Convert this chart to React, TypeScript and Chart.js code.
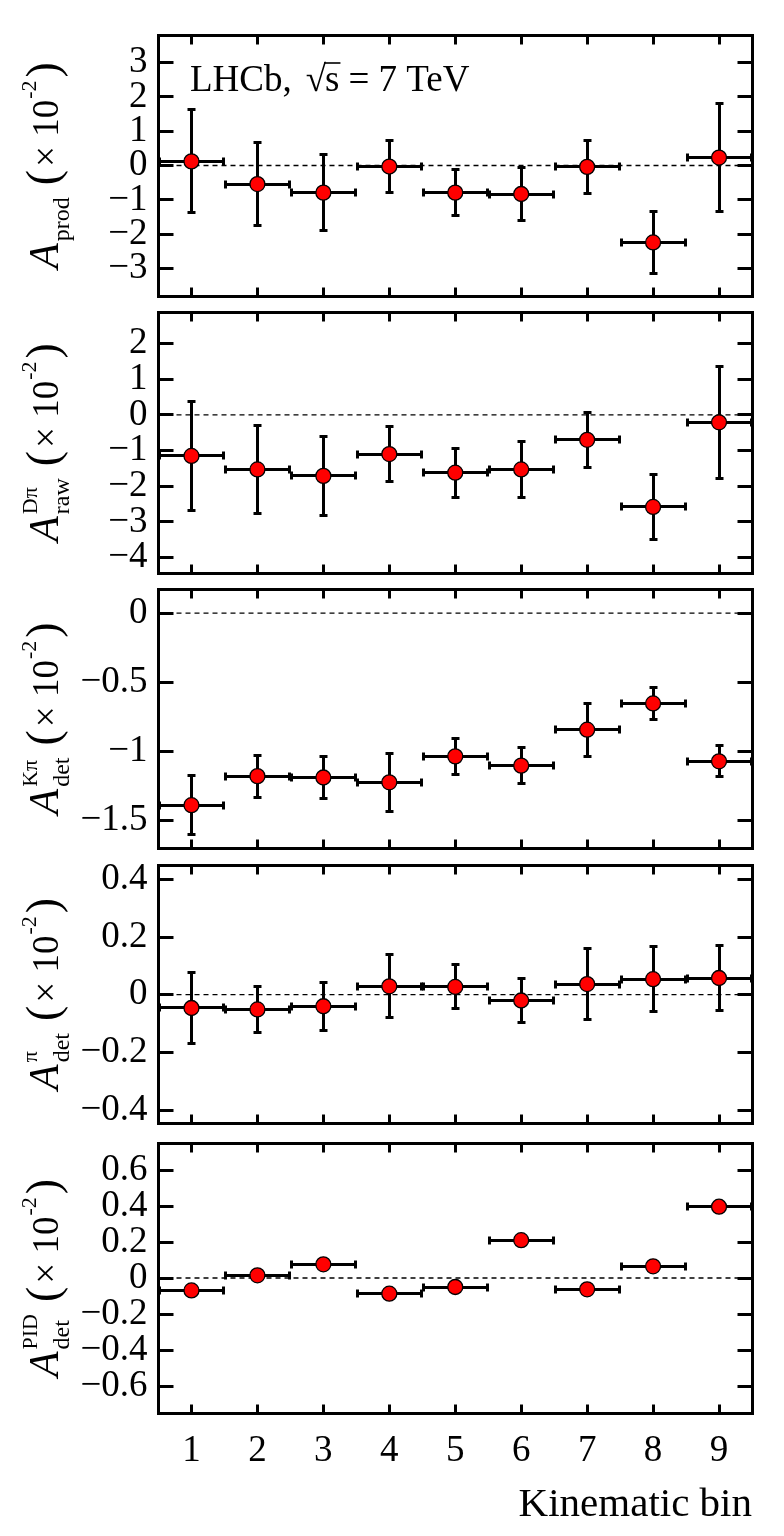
import React, { useEffect, useRef } from 'react';
import { Chart, registerables } from 'chart.js';

Chart.register(...registerables);

const FONT = "'Liberation Serif', 'Times New Roman', serif";

// ---------------- data ----------------
const bins = [1, 2, 3, 4, 5, 6, 7, 8, 9];
const binHalfWidth = 0.5;

const aProd = [0.12, -0.54, -0.79, -0.03, -0.79, -0.83, -0.04, -2.24, 0.23];
const aProdErr = [1.53, 1.25, 1.14, 0.79, 0.70, 0.80, 0.80, 0.92, 1.59];

const aRawDpi = [-1.15, -1.53, -1.71, -1.10, -1.62, -1.53, -0.70, -2.58, -0.21];
const aRawDpiErr = [1.55, 1.27, 1.13, 0.79, 0.71, 0.81, 0.79, 0.93, 1.60];

const aDetKpi = [-1.39, -1.18, -1.19, -1.225, -1.037, -1.104, -0.844, -0.654, -1.073];
const aDetKpiErr = [0.22, 0.16, 0.16, 0.215, 0.135, 0.135, 0.2, 0.12, 0.12];

const aDetPi = [-0.046, -0.051, -0.04, 0.029, 0.027, -0.02, 0.037, 0.054, 0.058];
const aDetPiErr = [0.128, 0.084, 0.087, 0.113, 0.08, 0.081, 0.128, 0.116, 0.117];

const aDetPid = [-0.069, 0.015, 0.076, -0.087, -0.05, 0.21, -0.063, 0.065, 0.396];

const prodTicks = [-3, -2, -1, 0, 1, 2, 3];
const rawTicks = [-4, -3, -2, -1, 0, 1, 2];
const kpiTicks = [-1.5, -1, -0.5, 0];
const piTicks = [-0.4, -0.2, 0, 0.2, 0.4];
const pidTicks = [-0.6, -0.4, -0.2, 0, 0.2, 0.4, 0.6];

const titleSub = ['prod', 'raw', 'det', 'det', 'det'];
const titleSup = ['', 'Dπ', 'Kπ', 'π', 'PID'];
const xTitle = 'Kinematic bin';
const lhcbLabel = ['LHCb,', 's', '= 7 TeV'];

// ---------------- panels ----------------
type Panel = {
  values: number[];
  errors: number[] | null;
  yMin: number;
  yMax: number;
  yTicks: number[];
  sub: string;
  sup: string;
};

const panels: Panel[] = [
  { values: aProd, errors: aProdErr, yMin: -3.8, yMax: 3.8, yTicks: prodTicks, sub: titleSub[0], sup: titleSup[0] },
  { values: aRawDpi, errors: aRawDpiErr, yMin: -4.43, yMax: 2.88, yTicks: rawTicks, sub: titleSub[1], sup: titleSup[1] },
  { values: aDetKpi, errors: aDetKpiErr, yMin: -1.7, yMax: 0.174, yTicks: kpiTicks, sub: titleSub[2], sup: titleSup[2] },
  { values: aDetPi, errors: aDetPiErr, yMin: -0.445, yMax: 0.45, yTicks: piTicks, sub: titleSub[3], sup: titleSup[3] },
  { values: aDetPid, errors: null, yMin: -0.75, yMax: 0.75, yTicks: pidTicks, sub: titleSub[4], sup: titleSup[4] },
];

// layout (pixels)
const FRAME_LEFT = 158.5;
const FRAME_RIGHT = 752;
const PAGE_W = 784;
const PAGE_H = 1536;
const MARGIN = 40;
const frames = [
  { top: 35, bottom: 296 },
  { top: 312, bottom: 573 },
  { top: 589, bottom: 848 },
  { top: 865, bottom: 1123 },
  { top: 1143, bottom: 1413 },
];
const layout = frames.map((f, i) => {
  const last = i === frames.length - 1;
  const bottomH = last ? PAGE_H - f.bottom : MARGIN;
  return { canvasTop: f.top - MARGIN, height: f.bottom - f.top + MARGIN + bottomH, bottomH, last };
});

const fmtTick = (v: number) => String(Math.round(v * 1000) / 1000).replace('-', '\u2212');
const snap = (v: number) => Math.round(v - 0.5) + 0.5;

function line(ctx: CanvasRenderingContext2D, x1: number, y1: number, x2: number, y2: number) {
  ctx.beginPath();
  ctx.moveTo(x1, y1);
  ctx.lineTo(x2, y2);
  ctx.stroke();
}

function drawYTitle(ctx: CanvasRenderingContext2D, p: Panel, cy: number) {
  const baseX = 58;
  ctx.save();
  ctx.fillStyle = '#000';
  ctx.textAlign = 'left';
  ctx.textBaseline = 'alphabetic';
  const fA = `italic 42px ${FONT}`;
  const fSub = `24px ${FONT}`;
  const fSup = `22px ${FONT}`;
  const fParen = `46px ${FONT}`;
  const fMain = `37px ${FONT}`;
  ctx.font = fA;
  const wA = ctx.measureText('A').width;
  ctx.font = fSub;
  const wSub = ctx.measureText(p.sub).width;
  ctx.font = fSup;
  const wSup = p.sup ? ctx.measureText(p.sup).width : 0;
  const wExp = ctx.measureText('-2').width;
  ctx.font = fParen;
  const wParen = ctx.measureText('(').width;
  ctx.font = fMain;
  const wTimes = ctx.measureText('\u00d7 10').width;
  const wBlock = Math.max(wSub, wSup);
  const gap1 = 2;
  const gap2 = 12;
  const total = wA + gap1 + wBlock + gap2 + wParen + 3 + wTimes + 1 + wExp + 3 + wParen;
  ctx.translate(baseX, cy);
  ctx.rotate(-Math.PI / 2);
  let x = -total / 2;
  ctx.font = fA;
  ctx.fillText('A', x, 0);
  x += wA + gap1;
  ctx.font = fSub;
  ctx.fillText(p.sub, x, 11);
  if (p.sup) {
    ctx.font = fSup;
    ctx.fillText(p.sup, x, -21);
  }
  x += wBlock + gap2;
  ctx.font = fParen;
  ctx.fillText('(', x, 0);
  x += wParen + 3;
  ctx.font = fMain;
  ctx.fillText('\u00d7 10', x, 0);
  x += wTimes + 1;
  ctx.font = fSup;
  ctx.fillText('-2', x, -22);
  x += wExp + 3;
  ctx.font = fParen;
  ctx.fillText(')', x, 0);
  ctx.restore();
}

function drawLHCb(ctx: CanvasRenderingContext2D) {
  ctx.save();
  ctx.fillStyle = '#000';
  ctx.strokeStyle = '#000';
  ctx.textAlign = 'left';
  ctx.textBaseline = 'alphabetic';
  ctx.font = `37px ${FONT}`;
  const by = 96;
  let x = 190;
  ctx.fillText(lhcbLabel[0], x, by);
  x += ctx.measureText(lhcbLabel[0]).width + 14;
  ctx.fillText('\u221a', x, by);
  x += ctx.measureText('\u221a').width - 1;
  const ws = ctx.measureText(lhcbLabel[1]).width;
  ctx.fillText(lhcbLabel[1], x, by);
  ctx.lineWidth = 1.6;
  line(ctx, x - 1, by - 28, x + ws + 1, by - 28);
  x += ws + 9;
  ctx.fillText(lhcbLabel[2], x, by);
  ctx.restore();
}

function makePlugin(p: Panel, idx: number) {
  return {
    id: 'hepStyle' + idx,
    beforeDatasetsDraw(chart: any) {
      const { ctx, chartArea: a, scales } = chart;
      const xs = scales.x;
      const ys = scales.y;
      ctx.save();
      // dashed zero line
      ctx.strokeStyle = '#000';
      ctx.lineWidth = 1.3;
      ctx.setLineDash([5, 4]);
      const y0 = ys.getPixelForValue(0);
      line(ctx, a.left, y0, a.right, y0);
      ctx.setLineDash([]);
      // error bars
      ctx.lineWidth = 3;
      p.values.forEach((v, i) => {
        const b = bins[i];
        const px = snap(xs.getPixelForValue(b));
        const py = snap(ys.getPixelForValue(v));
        const xl = xs.getPixelForValue(b - binHalfWidth);
        const xr = xs.getPixelForValue(b + binHalfWidth);
        line(ctx, xl, py, xr, py);
        line(ctx, snap(xl + 1), py - 4, snap(xl + 1), py + 4);
        line(ctx, snap(xr - 1), py - 4, snap(xr - 1), py + 4);
        if (p.errors) {
          const e = p.errors[i];
          const yt = snap(ys.getPixelForValue(v + e));
          const yb = snap(ys.getPixelForValue(v - e));
          line(ctx, px, yt, px, yb);
          line(ctx, px - 4, yt + 1, px + 4, yt + 1);
          line(ctx, px - 4, yb - 1, px + 4, yb - 1);
        }
      });
      ctx.restore();
    },
    afterDraw(chart: any) {
      const { ctx, chartArea: a, scales } = chart;
      const xs = scales.x;
      const ys = scales.y;
      const L = snap(a.left);
      const R = snap(a.right);
      const T = snap(a.top);
      const B = snap(a.bottom);
      ctx.save();
      ctx.strokeStyle = '#000';
      ctx.lineWidth = 3;
      // inward ticks
      bins.forEach((b) => {
        const px = snap(xs.getPixelForValue(b));
        line(ctx, px, T, px, T + 9);
        line(ctx, px, B, px, B - 9);
      });
      p.yTicks.forEach((t) => {
        const py = snap(ys.getPixelForValue(t));
        line(ctx, L, py, L + 15, py);
        line(ctx, R, py, R - 15, py);
      });
      // frame
      ctx.strokeRect(L, T, R - L, B - T);
      ctx.restore();
      drawYTitle(ctx, p, (a.top + a.bottom) / 2);
      if (idx === 0) drawLHCb(ctx);
      if (idx === panels.length - 1) {
        ctx.save();
        ctx.fillStyle = '#000';
        ctx.font = `41px ${FONT}`;
        ctx.textAlign = 'right';
        ctx.textBaseline = 'alphabetic';
        ctx.fillText(xTitle, a.right, 1516 - layout[idx].canvasTop);
        ctx.restore();
      }
    },
  };
}

function buildConfig(p: Panel, idx: number): any {
  const lay = layout[idx];
  return {
    type: 'scatter',
    data: {
      datasets: [
        {
          data: bins.map((b, i) => ({ x: b, y: p.values[i] })),
          pointRadius: 7.5,
          pointHoverRadius: 7.5,
          pointBackgroundColor: '#ff0000',
          pointBorderColor: '#000000',
          pointBorderWidth: 1.3,
          showLine: false,
          clip: false,
        },
      ],
    },
    options: {
      responsive: false,
      animation: false,
      events: [],
      layout: { padding: { top: MARGIN, right: PAGE_W - FRAME_RIGHT, left: 0, bottom: 0 } },
      plugins: { legend: { display: false }, tooltip: { enabled: false } },
      scales: {
        x: {
          type: 'linear',
          min: 0.5,
          max: 9.5,
          grid: { display: false, drawTicks: false },
          border: { display: false },
          afterBuildTicks: (s: any) => {
            s.ticks = bins.map((v) => ({ value: v }));
          },
          afterFit: (s: any) => {
            s.height = lay.bottomH;
          },
          ticks: {
            display: lay.last,
            autoSkip: false,
            maxRotation: 0,
            padding: 16,
            color: '#000',
            font: { family: FONT, size: 37 },
            callback: (v: number) => String(v),
          },
        },
        y: {
          type: 'linear',
          min: p.yMin,
          max: p.yMax,
          grid: { display: false, drawTicks: false },
          border: { display: false },
          afterBuildTicks: (s: any) => {
            s.ticks = p.yTicks.map((v) => ({ value: v }));
          },
          afterFit: (s: any) => {
            s.width = FRAME_LEFT;
          },
          ticks: {
            autoSkip: false,
            padding: 11,
            color: '#000',
            font: { family: FONT, size: 37 },
            callback: (v: number) => fmtTick(v),
          },
        },
      },
    },
    plugins: [makePlugin(p, idx)],
  };
}

export default function App() {
  const refs = useRef<(HTMLCanvasElement | null)[]>([]);
  useEffect(() => {
    const charts = panels.map((p, i) => new Chart(refs.current[i] as HTMLCanvasElement, buildConfig(p, i)));
    return () => charts.forEach((c) => c.destroy());
  }, []);
  return (
    <div style={{ position: 'absolute', left: 0, top: 0, width: PAGE_W, height: PAGE_H, background: '#fff' }}>
      {layout.map((l, i) => (
        <canvas
          key={i}
          ref={(el) => {
            refs.current[i] = el;
          }}
          width={PAGE_W}
          height={l.height}
          style={{ position: 'absolute', left: 0, top: l.canvasTop, width: PAGE_W, height: l.height }}
        />
      ))}
    </div>
  );
}
